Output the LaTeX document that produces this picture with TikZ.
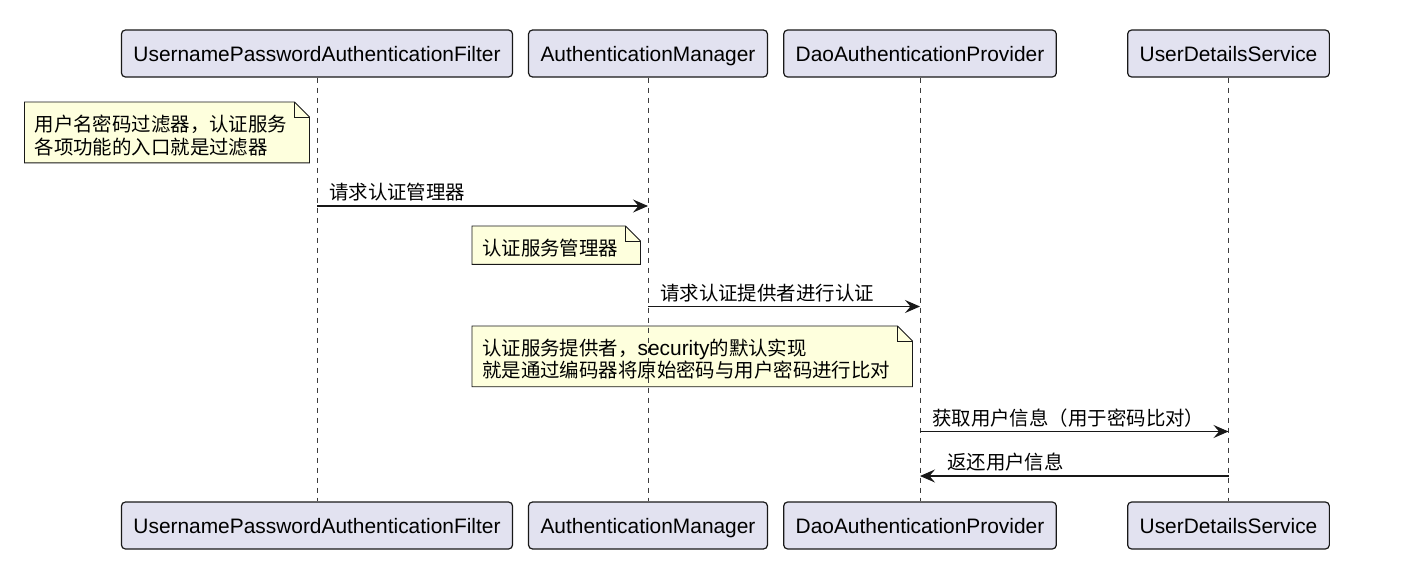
\documentclass[tikz,border=0pt]{standalone}
\usepackage{fontspec}
\setmainfont{Liberation Sans}
\newfontfamily\cjk{Noto Sans CJK SC}[Scale=0.93]
\usetikzlibrary{arrows.meta, positioning, calc, backgrounds}
\definecolor{partfill}{HTML}{E2E2F0}
\definecolor{edgedark}{HTML}{181818}
\definecolor{notefill}{HTML}{FEFFDD}

\begin{document}
\begin{tikzpicture}[x=1pt, y=-1pt,
  part/.style={rectangle, draw=edgedark, fill=partfill, line width=1.2pt, rounded corners=4pt, minimum height=47pt, inner xsep=12pt, text height=16pt, text depth=0pt, font=\fontsize{20.9}{24}\selectfont},
  life/.style={draw=edgedark!85, line width=0.9pt, dash pattern=on 5pt off 5pt},
  note/.style={inner xsep=10pt, inner ysep=10pt, align=left, font=\fontsize{20.9}{22.3}\selectfont\cjk},
  noteframe/.style={draw=edgedark, fill=notefill, line width=0.8pt},
  msg/.style={-{Stealth[length=15pt, width=13pt, inset=5.5pt]}, draw=edgedark, line width=1.1pt},
  lbl/.style={inner sep=0pt, font=\fontsize{20.9}{22.3}\selectfont\cjk}
]
  \useasboundingbox (0,0) rectangle (1401,581);

  % Participants
  \node[part] (filter) at (317, 53.5) {UsernamePasswordAuthenticationFilter};
  \node[part] (manager) at (648, 53.5) {AuthenticationManager};
  \node[part] (provider) at (920, 53.5) {DaoAuthenticationProvider};
  \node[part] (userservice) at (1228.5, 53.5) {UserDetailsService};

  \node[part] (filterB) at (317, 525.5) {UsernamePasswordAuthenticationFilter};
  \node[part] (managerB) at (648, 525.5) {AuthenticationManager};
  \node[part] (providerB) at (920, 525.5) {DaoAuthenticationProvider};
  \node[part] (userserviceB) at (1228.5, 525.5) {UserDetailsService};

  % Lifelines
  \draw[life] (filter) -- (filterB);
  \draw[life] (manager) -- (managerB);
  \draw[life] (provider) -- (providerB);
  \draw[life] (userservice) -- (userserviceB);

  % Notes (frame sits 3pt above the text box)
  \node[note, anchor=north east] (n1) at ($(filter |- 0,105)+(-19.5,0)$) {用户名密码过滤器，认证服务\\各项功能的入口就是过滤器};
  \node[note, anchor=north east] (n2) at ($(manager |- 0,229)+(-19.5,0)$) {认证服务管理器};
  \node[note, anchor=north east] (n3) at ($(provider |- 0,329)+(-19.5,0)$) {认证服务提供者，{\rmfamily security}的默认实现\\就是通过编码器将原始密码与用户密码进行比对};

  \begin{scope}[on background layer]
    \foreach \n in {n1, n2, n3} {
      \filldraw[noteframe] ($(\n.south west)+(0,-3)$) -- ($(\n.north west)+(0,-3)$) -- ($(\n.north east)+(-3,-3)$) -- ++(15,15) -- ($(\n.south east)+(12,-3)$) -- cycle;
      \draw[noteframe, fill=none] ($(\n.north east)+(-3,-3)$) -- ++(0,15) -- ++(15,0);
    }
  \end{scope}

  % Messages
  \coordinate (r1) at (0, 206);
  \coordinate (r2) at (0, 306.5);
  \coordinate (r3) at (0, 431.5);
  \coordinate (r4) at (0, 476);

  \draw[msg] (filter |- r1) -- (manager |- r1);
  \node[lbl, anchor=base west] (l1) at ($(filter |- r1)+(12,-6.5)$) {请求认证管理器};
  \draw[msg] (manager |- r2) -- (provider |- r2);
  \node[lbl, anchor=base west] (l2) at ($(manager |- r2)+(12,-6.5)$) {请求认证提供者进行认证};
  \draw[msg] (provider |- r3) -- (userservice |- r3);
  \node[lbl, anchor=base west] (l3) at ($(provider |- r3)+(12,-6.5)$) {获取用户信息（用于密码比对）};
  \draw[msg] (userservice |- r4) -- (provider |- r4);
  \node[lbl, anchor=base west] (l4) at ($(provider |- r4)+(27,-6.5)$) {返还用户信息};
\end{tikzpicture}
\end{document}
